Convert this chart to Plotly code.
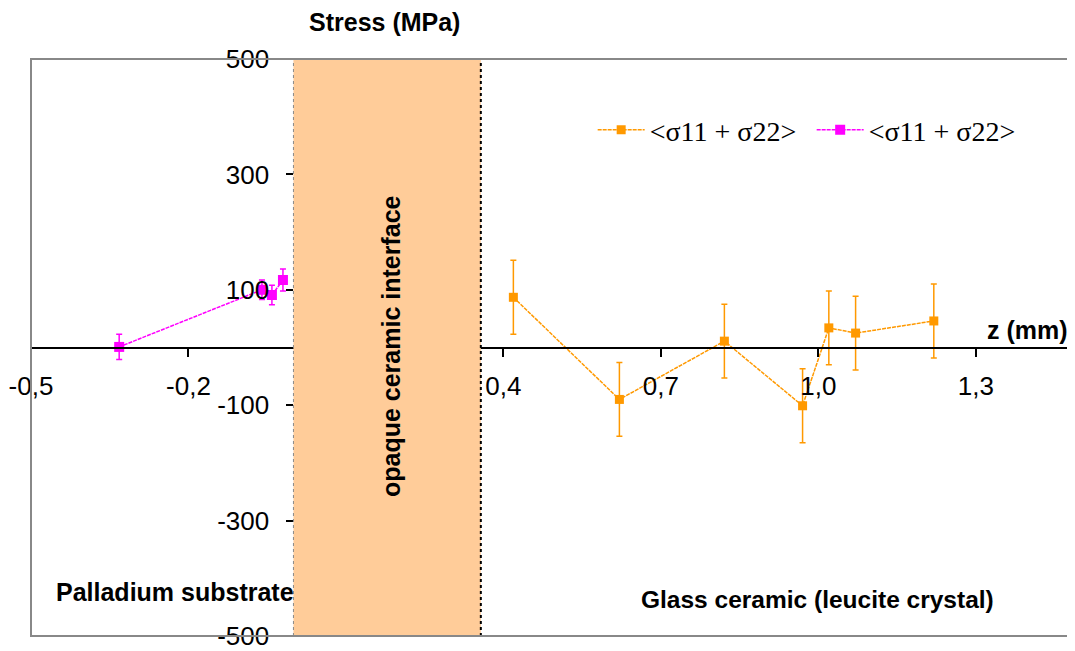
import plotly.graph_objects as go

# glass ceramic side (orange series)
z_glass = [0.419, 0.621, 0.821, 0.970, 1.020, 1.071, 1.220]
s_glass = [87, -90, 11, -101, 34, 25, 46]
err_glass = [64, 64, 64, 64, 64, 64, 64]

# palladium substrate side (magenta series)
z_pd = [-0.332, -0.060, -0.041, -0.020]
s_pd = [1, 100, 91, 117]
err_pd = [22, 17, 17, 19]

# opaque ceramic interface band (z range, mm)
interface = [0.0, 0.357]

x_range = [-0.5, 1.489]
y_range = [-500, 500]
x_ticks = [-0.5, -0.2, 0.1, 0.4, 0.7, 1.0, 1.3]
x_labels = ["-0,5", "-0,2", "0,1", "0,4", "0,7", "1,0", "1,3"]
y_ticks = [-500, -300, -100, 100, 300, 500]
y_labels = ["-500", "-300", "-100", "100", "300", "500"]

series_name = "<σ11 + σ22>"
ORANGE = "#FF9900"
MAGENTA = "#FF00FF"
SANS = "Liberation Sans, Arial, sans-serif"
SERIF = "Liberation Serif, Times New Roman, serif"

fig = go.Figure()

for z, s, e, col, msize in [
    (z_glass, s_glass, err_glass, ORANGE, 9),
    (z_pd, s_pd, err_pd, MAGENTA, 10),
]:
    fig.add_trace(
        go.Scatter(
            x=z,
            y=s,
            name=series_name,
            mode="lines+markers",
            line=dict(color=col, width=1.5, dash="4px,1px"),
            marker=dict(symbol="square", size=msize, color=col),
            error_y=dict(type="data", array=e, color=col, thickness=1.5, width=3),
        )
    )

# position of the axes crossing in paper coords
y0_pos = (0 - y_range[0]) / (y_range[1] - y_range[0])
x0_pos = (0 - x_range[0]) / (x_range[1] - x_range[0])

# page body adds an 8px offset, margins compensate for it
fig.update_layout(
    width=1075,
    height=651,
    margin=dict(l=23, r=8, t=51, b=23),
    paper_bgcolor="white",
    plot_bgcolor="white",
    font=dict(family=SANS, color="black", size=26),
    showlegend=True,
    legend=dict(
        orientation="h",
        x=0.538,
        y=0.877,
        xanchor="left",
        yanchor="middle",
        itemwidth=47,
        entrywidth=157,
        font=dict(family=SERIF, size=28, color="black"),
        bgcolor="rgba(0,0,0,0)",
    ),
    xaxis=dict(
        range=x_range,
        anchor="free",
        position=y0_pos,
        automargin=False,
        showgrid=False,
        zeroline=False,
        showline=True,
        linecolor="black",
        linewidth=2,
        ticks="outside",
        ticklen=8,
        tickwidth=2,
        tickcolor="black",
        tickvals=x_ticks,
        ticktext=x_labels,
        ticklabelstandoff=7,
        tickfont=dict(size=26),
    ),
    yaxis=dict(
        range=y_range,
        anchor="free",
        position=x0_pos,
        automargin=False,
        showgrid=False,
        zeroline=False,
        showline=False,
        ticks="outside",
        ticklen=7,
        tickwidth=2,
        tickcolor="black",
        tickvals=y_ticks,
        ticktext=y_labels,
        ticklabelstandoff=12,
        tickfont=dict(size=26),
    ),
)

# interface band and its edges
fig.add_shape(
    type="rect", xref="x", yref="paper",
    x0=interface[0], x1=interface[1], y0=0, y1=1,
    fillcolor="#FFCC99", line_width=0, layer="above",
)
fig.add_shape(
    type="line", xref="x", yref="paper",
    x0=interface[0], x1=interface[0], y0=0, y1=1,
    line=dict(color="#888888", width=1, dash="dot"), layer="above",
)
fig.add_shape(
    type="line", xref="x", yref="paper",
    x0=interface[1], x1=interface[1], y0=0, y1=1,
    line=dict(color="black", width=2, dash="dot"), layer="above",
)

# plot frame (right edge runs off the page)
fig.add_shape(
    type="rect", xref="paper", yref="paper",
    x0=0, x1=1.01, y0=0, y1=1,
    line=dict(color="#888888", width=2), layer="above",
)

fig.add_annotation(
    text="<b>Stress (MPa)</b>", xref="paper", yref="paper",
    x=0.339, y=1.064, showarrow=False, font=dict(size=25),
    xanchor="center", yanchor="middle", borderpad=0,
)
fig.add_annotation(
    text="<b>z (mm)</b>", xref="paper", yref="paper",
    x=0.995, y=0.530, showarrow=False, font=dict(size=25),
    xanchor="right", yanchor="middle",
)
fig.add_annotation(
    text="<b>Palladium substrate</b>", xref="paper", yref="paper",
    x=0.022, y=0.076, showarrow=False, font=dict(size=25),
    xanchor="left", yanchor="middle",
)
fig.add_annotation(
    text="<b>Glass ceramic (leucite crystal)</b>", xref="paper", yref="paper",
    x=0.753, y=0.0624, showarrow=False, font=dict(size=24.5),
    xanchor="center", yanchor="middle",
)
fig.add_annotation(
    text="<b>opaque ceramic interface</b>", xref="x", yref="paper",
    x=sum(interface) / 2 + 0.006, y=0.503, showarrow=False, font=dict(size=25),
    textangle=-90, xanchor="center", yanchor="middle",
)

fig.write_html("out.html")
